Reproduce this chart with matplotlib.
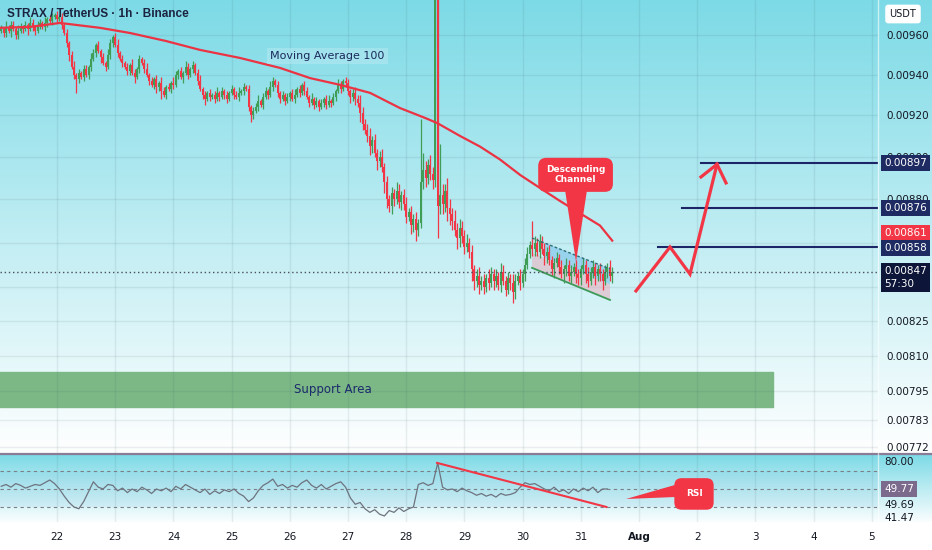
import numpy as np
import matplotlib.pyplot as plt
from matplotlib.colors import to_rgb
from matplotlib.patches import Polygon
from matplotlib.transforms import blended_transform_factory

# ---- hourly candles, Jul 21 01:00 -> Jul 31 13:00 (prices in 1e-5 USDT) ----
first_open = 962
closes = [
    963, 961, 964, 962, 965, 963, 960, 962, 964, 963, 965, 963, 966, 964, 962, 965, 966, 964, 966, 968, 967, 969, 970,
    968, 969, 965, 961, 956, 950, 944, 940, 938, 941, 939, 943, 940, 944, 948, 951, 955, 952, 949, 946, 944, 950, 956, 959,
    955, 951, 948, 946, 944, 942, 945, 941, 939, 943, 948, 946, 943, 940, 937, 935, 938, 934, 936, 932, 930, 934, 933, 936,
    935, 940, 942, 939, 941, 944, 940, 943, 945, 941, 937, 933, 930, 928, 931, 929, 930, 928, 931, 929, 932, 930, 928, 931,
    933, 930, 929, 931, 932, 934, 933, 924, 920, 922, 924, 927, 925, 929, 932, 930, 934, 937, 935, 931, 928, 930, 927, 929,
    931, 928, 930, 933, 931, 935, 932, 929, 926, 928, 925, 927, 924, 926, 928, 925, 927, 926, 929, 932, 935, 933, 937, 936,
    932, 929, 931, 928, 926, 921, 916, 913, 910, 905, 908, 902, 898, 900, 895, 888, 880, 877, 883, 880, 884, 879, 882, 878,
    872, 874, 868, 871, 866, 869, 888, 894, 890, 896, 892, 889, 985, 877, 882, 878, 884, 876, 873, 870, 866, 862, 867, 863,
    858, 860, 856, 848, 843, 845, 841, 843, 840, 844, 842, 846, 843, 845, 841, 847, 843, 839, 844, 842, 838, 843, 845, 842,
    846, 850, 855, 859, 857, 860, 856, 861, 857, 854, 856, 852, 848, 851, 853, 849, 846, 848, 850, 845, 847, 849, 846, 844,
    848, 850, 846, 843, 847, 849, 845, 848, 846, 843, 847, 849, 845, 847,
]
wick_up = [
    2, 1, 3, 1, 2, 2, 1, 3, 2, 1, 2, 1, 3, 2, 1, 2, 2, 1, 3, 1, 2, 2, 1,
    2, 1, 2, 1, 2, 1, 2, 3, 1, 2, 1, 2, 2, 1, 3, 2, 1, 2, 1, 2, 1, 3, 2, 1,
    2, 3, 1, 2, 1, 2, 1, 3, 2, 1, 2, 1, 2, 3, 1, 2, 1, 2, 1, 3, 2, 1, 2, 1,
    3, 2, 1, 2, 1, 3, 2, 1, 2, 1, 2, 3, 1, 2, 1, 2, 1, 2, 3, 1, 2, 1, 2, 1,
    2, 1, 2, 3, 1, 2, 1, 2, 1, 2, 2, 3, 1, 2, 2, 1, 3, 2, 1, 2, 1, 2, 1, 2,
    1, 2, 3, 1, 2, 1, 2, 2, 1, 3, 1, 2, 1, 2, 1, 2, 3, 1, 2, 1, 3, 2, 1, 2,
    2, 1, 2, 3, 2, 4, 3, 2, 3, 4, 2, 3, 2, 3, 4, 2, 3, 2, 3, 2, 4, 3, 2, 3,
    3, 2, 3, 2, 3, 2, 30, 8, 4, 3, 5, 3, 15, 4, 24, 5, 3, 6, 4, 3, 5, 3, 4, 3,
    3, 4, 2, 3, 2, 3, 4, 2, 3, 2, 4, 3, 2, 3, 2, 4, 3, 2, 3, 2, 4, 3, 2, 3,
    2, 3, 3, 2, 11, 3, 2, 3, 2, 3, 2, 3, 2, 2, 3, 2, 3, 2, 3, 2, 3, 2, 3, 2,
    2, 3, 2, 3, 2, 3, 2, 2, 3, 2, 3, 2, 3, 2,
]
wick_dn = [
    1, 2, 2, 1, 3, 1, 2, 2, 1, 2, 1, 3, 1, 2, 2, 1, 2, 1, 2, 2, 1, 2, 1,
    2, 1, 2, 1, 2, 3, 1, 2, 7, 2, 1, 2, 1, 2, 2, 1, 2, 1, 3, 1, 2, 1, 2, 2,
    1, 2, 1, 2, 1, 2, 2, 1, 3, 1, 2, 1, 2, 1, 2, 1, 2, 3, 2, 4, 1, 2, 1, 2,
    2, 1, 2, 1, 3, 1, 2, 1, 2, 1, 2, 1, 2, 3, 1, 2, 1, 2, 1, 2, 1, 2, 2, 1,
    1, 2, 1, 2, 1, 2, 1, 2, 3, 2, 1, 2, 1, 2, 1, 2, 1, 2, 1, 2, 2, 1, 2, 1,
    2, 1, 2, 1, 2, 1, 2, 1, 2, 1, 2, 1, 2, 1, 2, 2, 1, 2, 1, 2, 1, 2, 1, 2,
    2, 3, 2, 3, 2, 4, 3, 2, 3, 4, 3, 2, 4, 3, 2, 5, 4, 3, 4, 3, 2, 3, 4, 3,
    3, 2, 4, 3, 5, 3, 2, 3, 4, 3, 3, 4, 3, 15, 4, 5, 4, 6, 5, 4, 3, 5, 4, 3,
    3, 2, 3, 5, 4, 3, 4, 2, 3, 2, 3, 2, 4, 3, 2, 3, 2, 3, 2, 3, 5, 3, 2, 3,
    2, 3, 2, 2, 3, 3, 2, 3, 2, 4, 3, 2, 3, 4, 2, 3, 2, 4, 3, 2, 3, 2, 4, 3,
    3, 2, 4, 3, 2, 3, 4, 2, 3, 4, 2, 3, 2, 3,
]

# moving average 100
ma_days = [21.02, 21.54, 22.05, 22.74, 23.25, 23.86, 24.46, 25.14, 25.83, 26.35, 26.86, 27.38,
           27.89, 28.32, 28.53, 28.92, 29.27, 29.61, 29.96, 30.30, 30.64, 30.99, 31.33, 31.54]
ma_vals = [963.6, 964.1, 966.1, 963.6, 961.0, 957.0, 952.4, 948.4, 943.4, 938.3, 935.0, 931.0,
           923.6, 918.8, 916.3, 910.1, 904.9, 898.8, 891.4, 885.3, 879.3, 873.5, 867.9, 861.0]

# RSI, one value every 2 hours from Jul 21 01:00
rsi = [53, 55, 52, 56, 54, 51, 53, 55, 54, 57, 60, 56,
       50, 42, 35, 30, 28, 36, 47, 58, 52, 50, 55, 54,
       48, 51, 46, 50, 47, 52, 49, 45, 50, 48, 51, 47,
       53, 50, 55, 52, 49, 46, 50, 44, 48, 45, 49, 47,
       50, 45, 42, 36, 40, 48, 54, 57, 61, 53, 55, 51, 54, 52, 57, 60,
       54, 51, 55, 50, 53, 56, 58, 52, 40, 33, 35, 28, 24, 27, 22,
       20, 26, 24, 29, 25, 28, 30, 55, 57, 54, 56, 79,
       52, 49, 50, 47, 51, 48, 46, 43, 45, 42, 44, 41, 45, 43, 44, 46,
       52, 57, 55, 56, 53, 50, 48, 52, 47, 49, 45, 50, 47, 51, 48, 52, 46, 50, 50]

price_ticks = [0.0096, 0.0094, 0.0092, 0.0090, 0.0088, 0.0086, 0.0084, 0.00825, 0.0081, 0.00795, 0.00783, 0.00772]
hidden_ticks = [0.0086, 0.0084]  # fully covered by the price badges
day_ticks = list(range(22, 37))
day_labels = ['22', '23', '24', '25', '26', '27', '28', '29', '30', '31', 'Aug', '2', '3', '4', '5']

targets = [0.00897, 0.00876, 0.00858]
target_from = [33.065, 32.739, 32.326]
last_price = 0.00847
ma_last = 0.00861
rsi_last = 49.77

# drawn forecast path and arrow head (day, price)
path_days = [31.948, 32.533, 32.876, 33.340]
path_prices = [0.008384, 0.008581, 0.008459, 0.008965]
head_days = [33.065, 33.340, 33.495]
head_prices = [0.008905, 0.008965, 0.008877]

# descending channel
chan_days = [30.162, 31.502]
chan_top = [0.008622, 0.008482]
chan_bot = [0.008487, 0.008344]
chan_mid = [0.008554, 0.008413]
chan_blue = [(30.385, 0.008600), (31.502, 0.008482), (31.502, 0.008413), (30.385, 0.008532)]

support_lo, support_hi, support_end = 0.007885, 0.00803, 34.30

GREEN = '#3f9d56'
RED = '#f23645'
NAVY = '#1c2566'
TXT = '#131722'

W, H = 932, 550
fig = plt.figure(figsize=(W / 100, H / 100), dpi=100)
fig.patch.set_facecolor('white')


def rect(left, top, right, bottom):
    return [left / W, 1 - bottom / H, (right - left) / W, (bottom - top) / H]


# background gradient (cyan -> white) for price pane and RSI pane
cyan = np.array(to_rgb('#7cdae6'))
grad = np.ones((H, 1, 3))
for y in range(H):
    if y < 453:
        f = y / 453
    elif y < 522:
        f = (y - 454) / 70
    else:
        f = 1.0
    f = min(max(f, 0), 1)
    grad[y, 0] = cyan * (1 - f) + f
bg = fig.add_axes([0, 0, 1, 1], zorder=-10)
bg.imshow(grad, aspect='auto', extent=[0, 1, 0, 1], origin='upper', interpolation='bilinear')
bg.axis('off')

xlim = (21.0206, 36.1065)

# ---------------- price pane ----------------
ax = fig.add_axes(rect(0, 0, 878, 453))
ax.set_facecolor('none')
ax.set_yscale('log')
ax.set_xlim(*xlim)
ax.set_ylim(0.007695, 0.009779)
for s in ax.spines.values():
    s.set_visible(False)
ax.yaxis.tick_right()
ax.set_yticks(price_ticks)
ax.set_yticklabels(['' if p in hidden_ticks else f'{p:.5f}' for p in price_ticks])
ax.yaxis.set_minor_locator(plt.NullLocator())
ax.tick_params(axis='y', length=0, pad=6, labelsize=7.5, labelcolor=TXT)
ax.set_xticks(day_ticks)
ax.tick_params(axis='x', length=0, labelbottom=False)
ax.grid(True, color='#2a4a55', alpha=0.09, lw=1)

# support area
ax.fill_between([xlim[0], support_end], support_lo, support_hi, color='#7cb886', zorder=1)
ax.text(26.74, 0.00796, 'Support Area', color='#1b2a6b', fontsize=8.5, ha='center', va='center', zorder=2)

# channel fills (under candles)
ax.add_patch(Polygon([(chan_days[0], chan_mid[0]), (chan_days[1], chan_mid[1]),
                      (chan_days[1], chan_bot[1]), (chan_days[0], chan_bot[0])],
                     closed=True, fc=(0.93, 0.66, 0.72, 0.5), ec='none', zorder=2))
ax.add_patch(Polygon(chan_blue, closed=True, fc=(0.38, 0.70, 0.90, 0.45), ec='none', zorder=2))

# candles
o = np.array([first_open] + closes[:-1]) * 1e-5
c = np.array(closes) * 1e-5
hi = np.maximum(o, c) + np.array(wick_up) * 1e-5
lo = np.minimum(o, c) - np.array(wick_dn) * 1e-5
t = 21 + (np.arange(len(c)) + 1) / 24
cols = np.where(c >= o, GREEN, RED)
ax.vlines(t, lo, hi, colors=cols, lw=0.9, zorder=3)
ax.bar(t, np.maximum(np.abs(c - o), 0.5e-5), bottom=np.minimum(o, c), width=0.034,
       color=cols, lw=0, zorder=4)

# channel borders
ax.plot(chan_days, chan_top, color='#2d6f78', lw=1, ls=(0, (2, 1.5)), zorder=5)
ax.plot(chan_days, chan_bot, color='#3d9a58', lw=1.3, zorder=5)

# MA 100
ax.plot(ma_days, np.array(ma_vals) * 1e-5, color='#eb3343', lw=1.6, zorder=5)
ax.text(26.64, 0.009494, 'Moving Average 100', color='#1b2a5b', fontsize=8, ha='center', va='center',
        bbox=dict(boxstyle='square,pad=0.3', fc=(0.75, 0.92, 0.96, 0.45), ec='none'), zorder=6)

# last price dotted line
ax.axhline(last_price, color='#4a4f5c', lw=1, ls=(0, (1, 2)), zorder=5)

# targets
for lvl, x0 in zip(targets, target_from):
    ax.plot([x0, xlim[1]], [lvl, lvl], color=NAVY, lw=1.5, zorder=6)

# forecast arrow
ax.plot(path_days, path_prices, color=RED, lw=2.3, solid_joinstyle='miter', zorder=7)
ax.plot(head_days, head_prices, color=RED, lw=2.3, solid_joinstyle='miter', zorder=7)

# descending channel callout
ax.add_patch(Polygon([(30.729, 0.008844), (31.107, 0.008844), (30.918, 0.008514)],
                     closed=True, fc=RED, ec='none', zorder=8))
ax.text(30.91, 0.008915, 'Descending\nChannel', color='white', fontsize=6.5, fontweight='bold',
        ha='center', va='center', linespacing=1.1, zorder=9,
        bbox=dict(boxstyle='round,pad=0.85,rounding_size=0.9', fc=RED, ec='none'))

# right-hand price labels
tr = blended_transform_factory(ax.transAxes, ax.transData)


def plabel(val, text, fc, dy=0, tc='white'):
    ax.annotate(text, xy=(1, val), xycoords=tr, xytext=(6, dy), textcoords='offset pixels',
                ha='left', va='center', fontsize=7.5, color=tc, annotation_clip=False, zorder=20,
                linespacing=1.3,
                bbox=dict(boxstyle='square,pad=0.3', fc=fc, ec='none'))


plabel(targets[0], f'{targets[0]:.5f}', '#1e2a62')
plabel(targets[1], f'{targets[1]:.5f}', '#1e2a62')
plabel(ma_last, f'{ma_last:.5f}', RED, dy=8)
plabel(targets[2], f'{targets[2]:.5f}', '#1e2a62', dy=-1)
plabel(last_price, f'{last_price:.5f}\n57:30', '#0d1538', dy=-6)

fig.text(903 / W, 1 - 14 / H, 'USDT', fontsize=7, color=TXT, ha='center', va='center',
         bbox=dict(boxstyle='round,pad=0.45,rounding_size=0.3', fc='white', ec='none'))
fig.text(7 / W, 1 - 14 / H, 'STRAX / TetherUS · 1h · Binance', fontsize=8.5, fontweight='bold',
         family='Liberation Sans', color='#1b2340', ha='left', va='center')

# ---------------- RSI pane ----------------
rax = fig.add_axes(rect(0, 454, 878, 522))
rax.set_facecolor('none')
rax.set_xlim(*xlim)
rax.set_ylim(13.3, 88.9)
for s in rax.spines.values():
    s.set_visible(False)
rax.set_yticks([])
rax.set_xticks(day_ticks)
rax.set_xticklabels(day_labels)
rax.tick_params(axis='x', length=0, pad=7, labelsize=7.5, labelcolor=TXT)
for lbl in rax.get_xticklabels():
    if lbl.get_text() == 'Aug':
        lbl.set_fontweight('bold')
rax.grid(True, axis='x', color='#2a4a55', alpha=0.09, lw=1)
rax.fill_between(xlim, 30, 70, color='#6fb3d9', alpha=0.12, lw=0)
for lvl in (70, 50, 30):
    rax.axhline(lvl, color='#7a8088', lw=0.8, ls=(0, (3, 3)))

rt = 21 + (2 * np.arange(len(rsi)) + 1) / 24
rax.plot(rt, rsi, color='#6d737e', lw=0.9, zorder=3)
rax.plot([28.53, 31.44], [79, 30], color=RED, lw=1.5, zorder=4)

rax.add_patch(Polygon([(31.777, 38.9), (32.78, 57.5), (32.78, 41.5)], closed=True,
                      fc=RED, ec='none', zorder=5))
rax.text(32.945, 44.5, 'RSI', color='white', fontsize=6.5, fontweight='bold', ha='center', va='center',
         zorder=6, bbox=dict(boxstyle='round,pad=1.25,rounding_size=0.8', fc=RED, ec='none'))

rtr = blended_transform_factory(rax.transAxes, rax.transData)
rax.annotate('80.00', xy=(1, 80), xycoords=rtr, xytext=(6, 0), textcoords='offset pixels',
             ha='left', va='center', fontsize=7.5, color=TXT, annotation_clip=False)
rax.annotate(f'{rsi_last:.2f}', xy=(1, rsi_last), xycoords=rtr, xytext=(6, 0), textcoords='offset pixels',
             ha='left', va='center', fontsize=7.5, color='white', annotation_clip=False,
             bbox=dict(boxstyle='square,pad=0.3', fc='#7b6a8c', ec='none'))
rax.annotate('49.69', xy=(1, 49.69), xycoords=rtr, xytext=(6, -16), textcoords='offset pixels',
             ha='left', va='center', fontsize=7.5, color=TXT, annotation_clip=False)
rax.annotate('41.47', xy=(1, 41.47), xycoords=rtr, xytext=(6, -21), textcoords='offset pixels',
             ha='left', va='center', fontsize=7.5, color=TXT, annotation_clip=False)

# pane separator and price-scale divider
fig.add_artist(plt.Line2D([0, 1], [1 - 453.5 / H] * 2, color='#8a7c96', lw=1.6))
fig.add_artist(plt.Line2D([878 / W] * 2, [1 - 522 / H, 1], color='white', lw=1, alpha=0.6))

fig.savefig('out.png', dpi=100)
